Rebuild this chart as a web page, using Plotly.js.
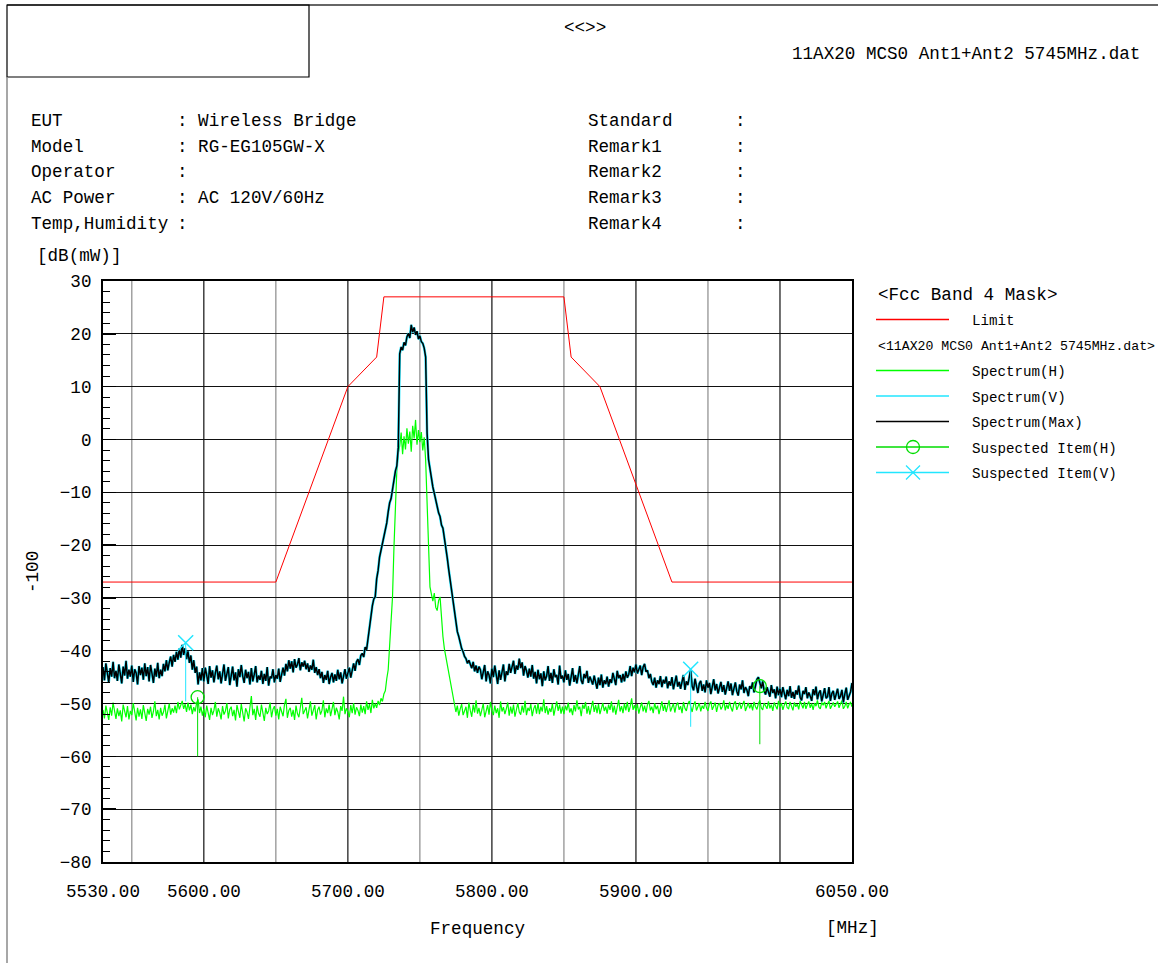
<!DOCTYPE html>
<html><head><meta charset="utf-8">
<script src="https://cdn.plot.ly/plotly-3.0.1.min.js"></script>
<style>html,body{margin:0;padding:0;background:#fff;overflow:hidden}#chart{width:1158px;height:963px}</style>
</head><body><div id="chart"></div>
<script>
// ---- sweep (1 MHz per point from 5530 MHz) ----
const freqStart = 5530;
const freqStep = 1;

// Spectrum(Max) [dB(mW)]
const spectrumMax = [
-43.1,-45.6,-42.4,-44.8,-46.0,-43.3,-44.9,-42.1,-45.2,-43.8,
-45.7,-42.6,-44.4,-46.2,-43.0,-44.7,-41.9,-45.3,-43.6,-44.9,
-42.8,-45.9,-43.5,-44.2,-46.4,-42.9,-44.6,-43.2,-45.5,-42.4,
-44.8,-43.1,-45.8,-42.7,-44.3,-46.1,-43.4,-44.9,-42.3,-45.2,
-43.6,-44.8,-42.5,-43.9,-41.8,-43.7,-42.2,-41.1,-43.0,-40.8,
-42.1,-40.2,-41.7,-39.6,-41.3,-38.9,-40.8,-39.5,-41.6,-40.1,
-42.3,-40.9,-43.6,-41.8,-44.2,-43.0,-46.4,-44.1,-45.6,-43.3,
-45.8,-43.2,-44.6,-46.3,-42.9,-45.1,-43.7,-46.0,-44.2,-42.8,
-45.4,-43.9,-46.2,-44.0,-42.6,-45.7,-44.4,-43.1,-46.5,-44.3,
-43.0,-45.6,-44.1,-46.8,-43.5,-45.0,-42.7,-44.8,-46.1,-43.6,
-45.2,-44.0,-46.4,-43.3,-45.8,-44.5,-42.9,-46.0,-44.7,-45.5,
-43.8,-46.3,-44.4,-45.7,-43.1,-46.6,-44.9,-45.2,-43.5,-46.0,
-44.6,-45.3,-43.4,-45.9,-44.1,-43.2,-44.7,-42.5,-43.9,-41.8,
-43.4,-42.0,-44.1,-41.6,-43.2,-42.6,-41.4,-43.7,-42.2,-43.0,
-41.9,-43.5,-42.4,-44.0,-42.8,-43.6,-41.7,-44.2,-43.1,-44.6,
-43.5,-45.2,-44.0,-46.1,-44.6,-45.5,-43.8,-46.3,-45.0,-44.2,
-46.0,-44.5,-45.7,-43.6,-45.4,-44.1,-46.2,-44.8,-43.5,-45.3,
-44.0,-43.2,-45.1,-43.6,-42.4,-43.8,-42.1,-41.6,-42.7,-40.9,
-40.5,-41.2,-39.3,-39.8,-37.6,-36.0,-34.2,-31.5,-30.2,-29.8,
-26.4,-24.8,-22.3,-21.0,-19.6,-18.4,-16.9,-15.8,-13.7,-12.0,
-11.2,-9.4,-8.1,-6.0,-5.0,-1.5,16.2,17.5,16.9,18.4,
17.8,19.4,20.1,19.2,21.7,20.3,21.2,19.8,20.5,19.0,
19.6,18.5,18.2,17.3,15.6,1.2,-3.8,-5.8,-7.6,-9.0,
-10.2,-11.6,-12.5,-13.9,-14.6,-16.2,-16.8,-18.5,-20.1,-22.4,
-24.6,-26.5,-29.0,-31.0,-33.1,-35.0,-36.4,-37.3,-38.5,-39.6,
-40.2,-41.1,-41.5,-42.4,-41.8,-42.6,-43.3,-42.1,-43.9,-42.8,
-44.2,-43.0,-43.6,-45.4,-44.0,-42.7,-45.8,-43.9,-44.6,-46.2,
-43.4,-45.0,-42.8,-44.9,-46.3,-43.7,-45.5,-44.1,-42.6,-45.8,
-43.9,-44.6,-42.5,-44.2,-43.0,-41.9,-44.4,-42.8,-43.6,-41.5,
-43.3,-42.2,-44.7,-42.9,-43.8,-45.1,-43.4,-44.9,-42.7,-45.3,
-44.0,-46.2,-43.6,-45.4,-44.3,-46.7,-43.9,-45.6,-44.8,-42.9,
-45.7,-44.2,-46.1,-43.5,-45.0,-44.6,-46.4,-42.8,-45.3,-44.7,
-46.0,-43.7,-45.5,-44.4,-46.6,-45.1,-43.3,-45.9,-44.6,-46.2,
-44.8,-42.9,-45.6,-46.3,-44.4,-45.2,-43.8,-46.1,-44.9,-45.7,
-46.4,-44.7,-45.9,-47.2,-45.1,-46.5,-44.5,-47.0,-45.6,-46.3,
-44.9,-46.8,-45.4,-46.1,-44.2,-45.7,-46.5,-43.8,-45.2,-44.6,
-46.0,-44.4,-45.8,-43.9,-45.1,-44.5,-42.9,-44.8,-43.2,-44.1,
-42.6,-44.3,-43.5,-42.8,-44.6,-43.1,-42.5,-44.0,-43.7,-45.2,
-44.4,-45.9,-46.5,-45.1,-47.0,-45.6,-46.3,-44.8,-46.9,-45.5,
-46.2,-44.9,-47.1,-45.8,-46.6,-45.0,-47.3,-46.1,-44.7,-46.8,
-45.9,-47.2,-46.0,-44.6,-47.4,-45.8,-46.5,-44.9,-43.6,-46.7,
-47.5,-45.3,-46.9,-48.0,-46.2,-45.7,-47.6,-46.4,-47.9,-45.6,
-47.0,-46.1,-48.2,-46.8,-45.4,-47.5,-46.3,-48.1,-47.2,-45.9,
-47.8,-46.5,-48.3,-47.0,-45.8,-47.6,-46.2,-48.4,-47.1,-46.0,
-47.7,-48.5,-46.4,-47.3,-45.6,-48.0,-46.9,-47.4,-48.6,-46.7,
-47.2,-46.0,-47.9,-46.6,-45.4,-45.0,-46.3,-47.1,-45.8,-47.6,
-48.3,-46.9,-47.8,-48.7,-46.5,-48.0,-47.3,-49.0,-46.8,-48.4,
-47.2,-48.8,-46.9,-48.1,-49.2,-47.4,-48.6,-46.7,-48.9,-47.8,
-49.1,-47.5,-48.3,-46.6,-48.8,-49.4,-47.6,-48.2,-46.9,-49.0,
-47.9,-48.6,-49.5,-47.3,-48.4,-46.8,-49.2,-48.0,-47.5,-49.6,
-48.3,-47.1,-49.0,-48.7,-46.9,-49.5,-48.1,-47.6,-49.3,-48.4,
-47.2,-49.1,-48.6,-47.4,-49.8,-48.2,-47.0,-49.3,-48.5,-47.8,-46.1
];

// Spectrum(V): reads the same as the Max trace in the picture (it peeks out under it)
const spectrumV = spectrumMax.slice();

// Spectrum(H) [dB(mW)]
const spectrumH = [
-51.2,-52.8,-50.4,-51.9,-53.1,-50.7,-52.3,-49.8,-51.6,-52.9,
-50.9,-52.4,-51.3,-53.4,-50.2,-51.8,-52.6,-50.5,-53.0,-51.4,
-52.2,-49.9,-51.7,-53.2,-50.8,-52.5,-51.1,-52.9,-50.3,-51.9,
-53.3,-51.0,-52.1,-50.6,-52.7,-51.5,-49.6,-52.4,-51.2,-53.0,
-50.8,-52.3,-51.6,-50.2,-52.8,-51.4,-50.0,-52.1,-50.9,-51.7,
-50.4,-51.8,-49.7,-51.1,-50.3,-49.5,-51.0,-50.1,-51.6,-49.8,
-51.3,-50.2,-52.0,-50.7,-51.5,-49.9,-49.2,-51.8,-50.6,-52.3,
-51.0,-52.6,-50.4,-51.9,-53.1,-50.8,-52.2,-51.3,-49.7,-52.5,
-50.9,-51.7,-53.0,-50.5,-52.1,-51.4,-49.9,-52.8,-51.1,-50.6,
-52.4,-51.2,-53.2,-50.3,-51.8,-52.7,-50.1,-51.5,-53.4,-50.9,
-51.6,-52.9,-50.7,-48.6,-52.2,-51.0,-53.1,-50.4,-51.9,-52.5,
-50.2,-51.7,-53.3,-50.8,-52.0,-51.4,-49.8,-52.6,-51.1,-50.5,
-52.3,-51.0,-53.0,-50.6,-51.8,-52.4,-50.2,-49.1,-52.7,-51.3,
-50.8,-52.5,-51.2,-53.1,-50.4,-51.9,-52.6,-50.1,-48.9,-52.0,
-51.4,-50.7,-52.8,-51.0,-49.6,-52.3,-51.5,-50.3,-53.0,-51.2,
-50.6,-52.1,-51.3,-49.4,-52.6,-50.9,-51.8,-50.2,-52.4,-51.0,
-49.7,-52.2,-50.8,-51.6,-53.0,-50.5,-51.4,-48.7,-52.0,-50.9,
-51.5,-52.6,-50.3,-51.8,-49.9,-52.1,-50.7,-51.3,-52.4,-50.2,
-51.7,-50.5,-52.0,-49.6,-51.2,-50.1,-51.8,-49.3,-50.9,-50.0,
-50.8,-49.5,-50.3,-49.0,-49.6,-48.2,-47.6,-45.3,-43.6,-39.0,
-33.5,-29.8,-20.4,-12.0,-5.8,-2.6,-1.2,1.3,-2.8,0.6,
-1.9,2.1,-0.8,1.5,-2.3,2.6,0.2,3.7,-1.0,1.8,
-0.5,1.4,-2.1,0.4,-3.9,-12.0,-21.6,-27.9,-29.3,-30.6,
-29.1,-31.8,-32.4,-30.5,-29.8,-34.8,-37.3,-39.6,-41.1,-43.0,
-44.8,-46.1,-47.5,-49.3,-50.2,-51.6,-50.4,-52.3,-51.0,-50.1,
-52.2,-51.4,-50.6,-52.7,-49.8,-51.3,-52.5,-50.2,-51.7,-49.4,
-51.9,-50.8,-52.4,-51.2,-50.0,-52.6,-51.5,-50.3,-52.1,-49.7,
-51.3,-52.2,-50.4,-51.8,-50.9,-52.7,-49.6,-51.5,-50.7,-52.0,
-51.0,-49.8,-52.3,-50.6,-51.9,-50.2,-52.5,-51.3,-49.9,-51.6,
-52.1,-50.4,-51.7,-49.5,-52.2,-50.8,-51.4,-50.1,-52.4,-51.0,
-50.3,-51.9,-49.9,-52.0,-50.6,-51.5,-49.2,-51.8,-50.5,-52.1,
-50.9,-51.6,-50.0,-52.3,-50.7,-49.6,-51.4,-50.2,-51.9,-50.6,
-52.0,-50.4,-51.3,-49.8,-51.7,-50.9,-52.2,-50.3,-51.5,-49.4,
-51.1,-50.6,-52.4,-50.2,-51.0,-49.7,-51.9,-50.5,-52.1,-50.8,
-49.5,-51.6,-50.3,-51.8,-50.1,-52.0,-50.7,-49.9,-51.4,-50.6,
-51.9,-50.2,-51.2,-49.6,-51.7,-50.4,-52.1,-50.8,-49.3,-51.5,
-50.5,-51.8,-50.0,-51.3,-49.7,-51.6,-50.6,-49.0,-51.2,-50.3,
-51.4,-50.1,-51.9,-50.7,-49.8,-51.5,-50.4,-51.7,-50.2,-49.5,
-51.3,-50.6,-51.8,-49.9,-51.1,-50.4,-52.0,-50.8,-49.6,-51.4,
-50.2,-51.6,-50.7,-49.4,-51.5,-50.9,-50.0,-51.7,-50.3,-49.8,
-51.2,-50.5,-51.8,-49.7,-50.9,-51.4,-50.1,-49.5,-50.8,-51.6,
-50.3,-49.6,-51.3,-50.7,-49.9,-51.5,-50.4,-51.0,-49.7,-50.8,
-51.4,-50.1,-49.6,-51.2,-50.5,-49.8,-51.6,-50.3,-49.9,-51.1,
-50.6,-49.4,-51.3,-50.2,-51.0,-49.7,-50.8,-51.5,-50.0,-49.6,
-51.2,-50.4,-49.8,-51.0,-50.3,-49.5,-51.4,-50.7,-49.9,-50.9,
-50.1,-51.3,-49.7,-50.6,-51.1,-50.0,-49.4,-50.8,-51.2,-49.9,
-50.5,-51.0,-49.6,-50.9,-50.2,-51.4,-49.8,-50.6,-51.1,-49.5,
-50.7,-49.9,-51.2,-50.3,-49.6,-50.8,-51.0,-49.7,-50.5,-51.3,
-49.8,-50.6,-50.1,-51.1,-49.5,-50.4,-50.9,-49.7,-51.0,-50.2,
-49.6,-50.8,-50.0,-51.2,-49.9,-50.5,-49.4,-50.7,-51.0,-49.8,
-50.3,-49.7,-50.9,-50.1,-49.5,-51.0,-50.4,-49.8,-50.6,-50.0,
-49.6,-50.8,-50.2,-49.4,-51.0,-50.5,-49.7,-50.9,-50.1,-49.8,-50.6
];

// FCC band 4 mask (limit line)
const limitFreq  = [5530, 5650, 5700, 5720, 5725, 5850, 5855, 5875, 5925, 6050];
const limitLevel = [-27, -27, 10, 15.6, 27, 27, 15.6, 10, -27, -27];

// Suspected items
const suspHFreq = [5595.7, 5986.0];
const suspHLevel = [-48.8, -46.7];
const suspHLow = [-60.0, -57.7];
const suspVFreq = [5587.4, 5938.0];
const suspVLevel = [-38.5, -43.5];
const suspVLow = [-49.6, -54.4];

// Axis ticks and grid
const xTickVals = [5530, 5600, 5700, 5800, 5900, 6050];
const xTickText = ['5530.00', '5600.00', '5700.00', '5800.00', '5900.00', '6050.00'];
const gridDark = [5600, 5700, 5800, 5900, 6000];
const gridLight = [5550, 5650, 5750, 5850, 5950];

// Header texts
const infoLabels = ['EUT', 'Model', 'Operator', 'AC Power', 'Temp,Humidity'];
const infoValues = [': Wireless Bridge', ': RG-EG105GW-X', ':', ': AC 120V/60Hz', ':'];
const remarkLabels = ['Standard', 'Remark1', 'Remark2', 'Remark3', 'Remark4'];
const fileName = '11AX20 MCS0 Ant1+Ant2 5745MHz.dat';

// ---------------------------------------------------------------
const freq = spectrumMax.map((_, i) => freqStart + i * freqStep);
const FONT = '"Liberation Mono", "DejaVu Sans Mono", monospace';
const FS = 17.6, FS2 = 14.2;
const L = 103, R = 852, T = 281, B = 862;
const W = R - L, H = B - T;
const px = p => (p - L) / W;
const py = p => (B - p) / H;

function stems(f, top, low) {
  const xs = [], ys = [];
  f.forEach((v, i) => { xs.push(v, v, null); ys.push(top[i], low[i], null); });
  return {xs, ys};
}
const sH = stems(suspHFreq, suspHLevel, suspHLow);
const sV = stems(suspVFreq, suspVLevel, suspVLow);

const GREEN = '#00ff00', CYAN = '#22e6ff', MARKG = '#00dd00';

const traces = [
  {x: limitFreq, y: limitLevel, mode: 'lines', name: 'Limit', line: {color: '#ff0000', width: 1}},
  {x: freq, y: spectrumH, mode: 'lines', name: 'Spectrum(H)', line: {color: GREEN, width: 1.2}},
  {x: freq, y: spectrumV, mode: 'lines', name: 'Spectrum(V)', line: {color: CYAN, width: 2.6}},
  {x: freq, y: spectrumMax, mode: 'lines', name: 'Spectrum(Max)', line: {color: '#000000', width: 1.5}},
  {x: sH.xs, y: sH.ys, mode: 'lines', line: {color: MARKG, width: 1}, showlegend: false},
  {x: sV.xs, y: sV.ys, mode: 'lines', line: {color: CYAN, width: 1}, showlegend: false},
  {x: suspHFreq, y: suspHLevel, mode: 'markers', name: 'Suspected Item(H)',
   marker: {symbol: 'circle-open', size: 13, color: MARKG, line: {width: 1.3, color: MARKG}}},
  {x: suspVFreq, y: suspVLevel, mode: 'markers', name: 'Suspected Item(V)',
   marker: {symbol: 'x-thin-open', size: 15, color: CYAN, line: {width: 1.5, color: CYAN}}}
];

const shapes = [];
gridLight.forEach(f => shapes.push({type: 'line', xref: 'x', yref: 'paper', x0: f, x1: f, y0: 0, y1: 1,
  line: {color: '#8a8a8a', width: 1.2}, layer: 'below'}));
gridDark.forEach(f => shapes.push({type: 'line', xref: 'x', yref: 'paper', x0: f, x1: f, y0: 0, y1: 1,
  line: {color: '#111111', width: 1.2}, layer: 'below'}));
// page frame
shapes.push({type: 'line', xref: 'paper', yref: 'paper', x0: px(7), x1: px(1158), y0: py(5), y1: py(5), line: {color: '#333', width: 1.5}});
shapes.push({type: 'rect', xref: 'paper', yref: 'paper', x0: px(7), x1: px(309), y0: py(5), y1: py(77), line: {color: '#000', width: 1.2}});
shapes.push({type: 'line', xref: 'paper', yref: 'paper', x0: px(7), x1: px(7), y0: py(77), y1: py(963), line: {color: '#8a8a8a', width: 1.5}});

// manual legend
const legY = {limit: 319.5, h: 370.5, v: 396, max: 421.5, sh: 447, sv: 472.5};
function legLine(y, color) {
  shapes.push({type: 'line', xref: 'paper', yref: 'paper', x0: px(876), x1: px(949), y0: py(y), y1: py(y), line: {color, width: 1.3}});
}
legLine(legY.limit, '#ff0000');
legLine(legY.h, GREEN);
legLine(legY.v, CYAN);
legLine(legY.max, '#000');
legLine(legY.sh, MARKG);
legLine(legY.sv, CYAN);
shapes.push({type: 'circle', xref: 'paper', yref: 'paper', x0: px(906.5), x1: px(919.5), y0: py(440.5), y1: py(453.5),
  line: {color: MARKG, width: 1.3}, fillcolor: 'rgba(0,0,0,0)'});
shapes.push({type: 'line', xref: 'paper', yref: 'paper', x0: px(906), x1: px(920), y0: py(465.5), y1: py(479.5), line: {color: CYAN, width: 1.3}});
shapes.push({type: 'line', xref: 'paper', yref: 'paper', x0: px(906), x1: px(920), y0: py(479.5), y1: py(465.5), line: {color: CYAN, width: 1.3}});

const annotations = [];
function ann(text, x, y, o = {}) {
  annotations.push(Object.assign({text, xref: 'paper', yref: 'paper', x: px(x), y: py(y), showarrow: false,
    xanchor: 'left', yanchor: 'middle', font: {family: FONT, size: FS, color: '#000'}}, o));
}
ann('<<>>', 585, 28, {xanchor: 'center'});
ann(fileName, 790, 54);
const rowY = [121, 147, 172, 198, 224];
infoLabels.forEach((t, i) => ann(t, 29, rowY[i]));
infoValues.forEach((t, i) => ann(t, 175, rowY[i]));
remarkLabels.forEach((t, i) => { ann(t, 586, rowY[i]); ann(':', 733, rowY[i]); });
ann('[dB(mW)]', 35, 256);
ann('-100', 33, 572, {xanchor: 'center', textangle: -90});
ann('[MHz]', 852, 928, {xanchor: 'center'});
// legend texts
ann('<Fcc Band 4 Mask>', 876, 295);
ann('Limit', 970, 321, {font: {family: FONT, size: FS2, color: '#000'}});
ann('<' + fileName + '>', 876, 346, {font: {family: FONT, size: 13.2, color: '#000'}});
ann('Spectrum(H)', 970, 372, {font: {family: FONT, size: FS2, color: '#000'}});
ann('Spectrum(V)', 970, 397.5, {font: {family: FONT, size: FS2, color: '#000'}});
ann('Spectrum(Max)', 970, 423, {font: {family: FONT, size: FS2, color: '#000'}});
ann('Suspected Item(H)', 970, 448.5, {font: {family: FONT, size: FS2, color: '#000'}});
ann('Suspected Item(V)', 970, 474, {font: {family: FONT, size: FS2, color: '#000'}});

const layout = {
  width: 1158, height: 963,
  margin: {l: L, r: 1158 - R, t: T, b: 963 - B, autoexpand: false},
  paper_bgcolor: '#ffffff', plot_bgcolor: '#ffffff',
  showlegend: false,
  font: {family: FONT, size: FS, color: '#000'},
  xaxis: {
    range: [5530, 6050], tickmode: 'array', tickvals: xTickVals, ticktext: xTickText,
    ticks: '', showgrid: false, zeroline: false,
    showline: true, linecolor: '#000', linewidth: 2, mirror: true,
    tickfont: {family: FONT, size: FS, color: '#000'}, ticklabelstandoff: 12,
    title: {text: 'Frequency', font: {family: FONT, size: FS, color: '#000'}, standoff: 21}
  },
  yaxis: {
    range: [-80, 30], tick0: 0, dtick: 10,
    ticks: 'inside', ticklen: 13, tickwidth: 1.5, tickcolor: '#000',
    showgrid: true, gridcolor: '#111111', gridwidth: 1, zeroline: false,
    showline: true, linecolor: '#000', linewidth: 2, mirror: true,
    minor: {dtick: 2, ticks: 'inside', ticklen: 7, tickwidth: 1, tickcolor: '#000', showgrid: false},
    tickfont: {family: FONT, size: FS, color: '#000'}, ticklabelstandoff: 6
  },
  shapes, annotations
};

Plotly.newPlot('chart', traces, layout, {displayModeBar: false, staticPlot: true});
</script></body></html>
